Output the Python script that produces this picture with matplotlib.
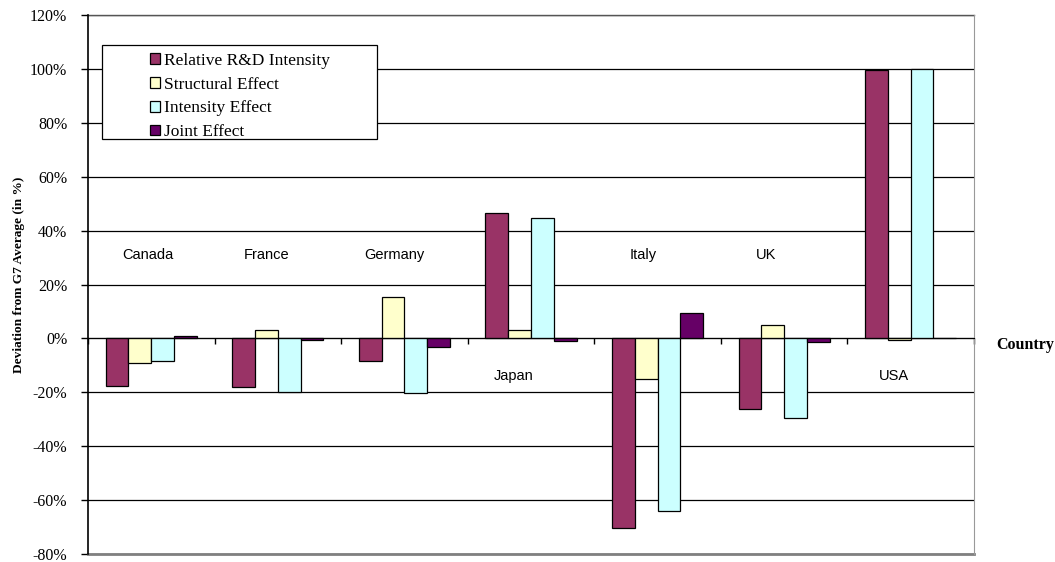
import matplotlib
matplotlib.use('Agg')
import matplotlib.pyplot as plt
import matplotlib.patches as mpatches
import numpy as np

countries = ['Canada', 'France', 'Germany', 'Japan', 'Italy', 'UK', 'USA']
series_names = ['Relative R&D Intensity', 'Structural Effect', 'Intensity Effect', 'Joint Effect']
rd_intensity = [-17.5, -18.0, -8.2, 46.4, -70.5, -26.3, 99.5]
structural = [-9.0, 3.0, 15.5, 3.2, -15.2, 4.8, -0.7]
intensity = [-8.5, -20.0, -20.4, 44.5, -64.0, -29.7, 100.1]
joint = [1.0, -0.5, -3.3, -0.8, 9.4, -1.2, 0.0]
yticks = [-80, -60, -40, -20, 0, 20, 40, 60, 80, 100, 120]

# where the country names sit (layout only)
label_y = [31, 31, 31, -14, 31, 31, -14]
label_dx = [-0.03, -0.09, -0.08, -0.14, -0.11, -0.14, -0.13]

colors = ['#993366', '#FFFFCC', '#CCFFFF', '#660066']

fig = plt.figure(figsize=(10.55, 5.62), dpi=100)
ax = fig.add_axes([0.0834, 0.0142, 0.8398, 0.9591])

x = np.arange(len(countries))
w = 0.18
all_series = [rd_intensity, structural, intensity, joint]
for i, vals in enumerate(all_series):
    ax.bar(x + (i - 1.5) * w, vals, width=w, color=colors[i],
           edgecolor='black', linewidth=0.9, label=series_names[i], zorder=3)

ax.set_xlim(-0.5, len(countries) - 0.5)
ax.set_ylim(-80, 120)
ax.set_yticks(yticks)
ax.set_yticklabels(['%d%%' % t for t in yticks], fontfamily='Liberation Serif', fontsize=11.5)
ax.yaxis.grid(True, color='black', linewidth=0.9, zorder=0)
ax.tick_params(axis='y', direction='out', length=5, width=1, pad=10)
ax.axhline(-80, color='#808080', linewidth=2, clip_on=False, zorder=2)
ax.axhline(120, color='#555555', linewidth=1, clip_on=False, zorder=2)

# x axis drawn through zero, ticks between the categories
ax.spines['bottom'].set_position(('data', 0))
ax.spines['bottom'].set_zorder(4)
ax.spines['top'].set_visible(False)
ax.spines['right'].set_color('#999999')
ax.spines['left'].set_linewidth(1.2)
ax.set_xticks(np.arange(len(countries) + 1) - 0.5)
ax.set_xticklabels([])
ax.tick_params(axis='x', direction='out', length=4, width=1)

for i, c in enumerate(countries):
    ax.text(x[i] + label_dx[i], label_y[i], c, ha='center', va='center',
            fontfamily='Liberation Sans', fontsize=10.5, zorder=5)

fig.text(19 / 1055, 1 - 275 / 562, 'Deviation from G7 Average (in %)',
         fontfamily='Liberation Serif', fontsize=9.6, fontweight='bold',
         rotation=90, ha='center', va='center')
fig.text(1025 / 1055, 1 - 345 / 562, 'Country', fontfamily='Liberation Serif',
         fontsize=11.5, fontweight='bold', ha='center', va='center')

# legend box
box = mpatches.Rectangle((0.0158, 0.770), 0.310, 0.174, transform=ax.transAxes,
                         facecolor='white', edgecolor='black', linewidth=0.9, zorder=6)
ax.add_patch(box)
leg = ax.legend(loc='upper left', bbox_to_anchor=(0.070, 0.930), frameon=False,
                prop={'family': 'Liberation Serif', 'size': 12.5},
                handlelength=0.58, handleheight=0.58, handletextpad=0.25,
                labelspacing=0.45, borderaxespad=0, borderpad=0)
leg.set_zorder(7)

plt.savefig('out.png', dpi=100)
